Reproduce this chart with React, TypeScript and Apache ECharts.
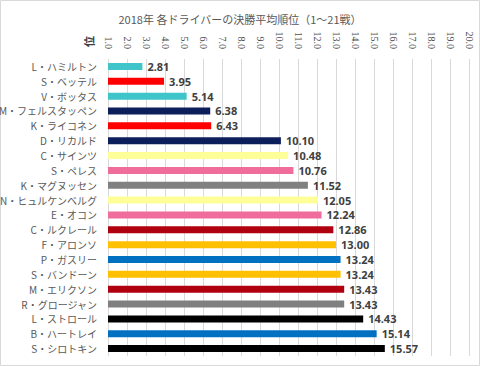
import React, { useEffect, useRef } from "react";
import * as echarts from "echarts";

const drivers = [
  "L・ハミルトン", "S・ベッテル", "V・ボッタス", "M・フェルスタッペン", "K・ライコネン",
  "D・リカルド", "C・サインツ", "S・ペレス", "K・マグヌッセン", "N・ヒュルケンベルグ",
  "E・オコン", "C・ルクレール", "F・アロンソ", "P・ガスリー", "S・バンドーン",
  "M・エリクソン", "R・グロージャン", "L・ストロール", "B・ハートレイ", "S・シロトキン",
];
const averages = [2.81, 3.95, 5.14, 6.38, 6.43, 10.10, 10.48, 10.76, 11.52, 12.05, 12.24, 12.86, 13.0, 13.24, 13.24, 13.43, 13.43, 14.43, 15.14, 15.57];
const barColors = [
  "#3FC5C9", "#FF0000", "#3FC5C9", "#0C1F5A", "#FF0000",
  "#0C1F5A", "#FFFF99", "#F06C9B", "#808080", "#FFFF99",
  "#F06C9B", "#B00010", "#FFC000", "#0070C0", "#FFC000",
  "#B00010", "#808080", "#000000", "#0070C0", "#000000",
];
const title = "2018年 各ドライバーの決勝平均順位（1～21戦）";
const axisMin = 1;
const axisMax = 20;
const axisInterval = 1;

export default function App() {
  const ref = useRef<HTMLDivElement>(null);
  useEffect(() => {
    if (!ref.current) return;
    const chart = echarts.init(ref.current, null, { renderer: "svg" });
    chart.setOption({
      animation: false,
      backgroundColor: "#ffffff",
      title: {
        text: title,
        left: "center",
        top: 8,
        textStyle: { fontSize: 11, fontWeight: "normal", color: "#595959", fontFamily: "Noto Sans CJK JP" },
      },
      grid: { left: 108, right: 11, top: 59, bottom: 10, containLabel: false, outerBoundsMode: "none" },
      xAxis: {
        type: "value",
        position: "top",
        min: axisMin,
        max: axisMax,
        interval: axisInterval,
        axisLine: { show: false },
        axisTick: { show: false },
        splitLine: { lineStyle: { color: "#D9D9D9", width: 1 } },
        axisLabel: {
          rotate: 90,
          margin: 10,
          fontSize: 10,
          color: "#4D4D4D",
          fontFamily: "Liberation Serif",
          formatter: (v: number) => v.toFixed(1),
        },
      },
      yAxis: {
        type: "category",
        data: drivers,
        inverse: true,
        axisLine: { show: false },
        axisTick: { show: false },
        axisLabel: { fontSize: 10, color: "#595959", margin: 11, fontFamily: "Noto Sans CJK JP" },
      },
      series: [
        {
          type: "bar",
          data: averages.map((v, i) => ({ value: v, itemStyle: { color: barColors[i] } })),
          barWidth: 7,
          label: {
            show: true,
            position: "right",
            distance: 5,
            fontSize: 11,
            fontWeight: "bold",
            color: "#404040",
            fontFamily: "Noto Sans",
            formatter: (p: any) => Number(p.value).toFixed(2),
          },
        },
      ],
      graphic: [
        {
          type: "rect",
          shape: { x: 0.5, y: 0.5, width: 479, height: 365 },
          style: { fill: "none", stroke: "#D9D9D9", lineWidth: 1 },
          silent: true,
        },
        {
          type: "text",
          x: 83,
          y: 47,
          rotation: Math.PI / 2,
          style: { text: "位", fontSize: 11, fontWeight: "bold", fill: "#404040", fontFamily: "Noto Sans CJK JP" },
        },
      ],
    });
    return () => chart.dispose();
  }, []);
  return <div ref={ref} style={{ position: "absolute", left: 0, top: 0, width: 480, height: 366 }} />;
}
